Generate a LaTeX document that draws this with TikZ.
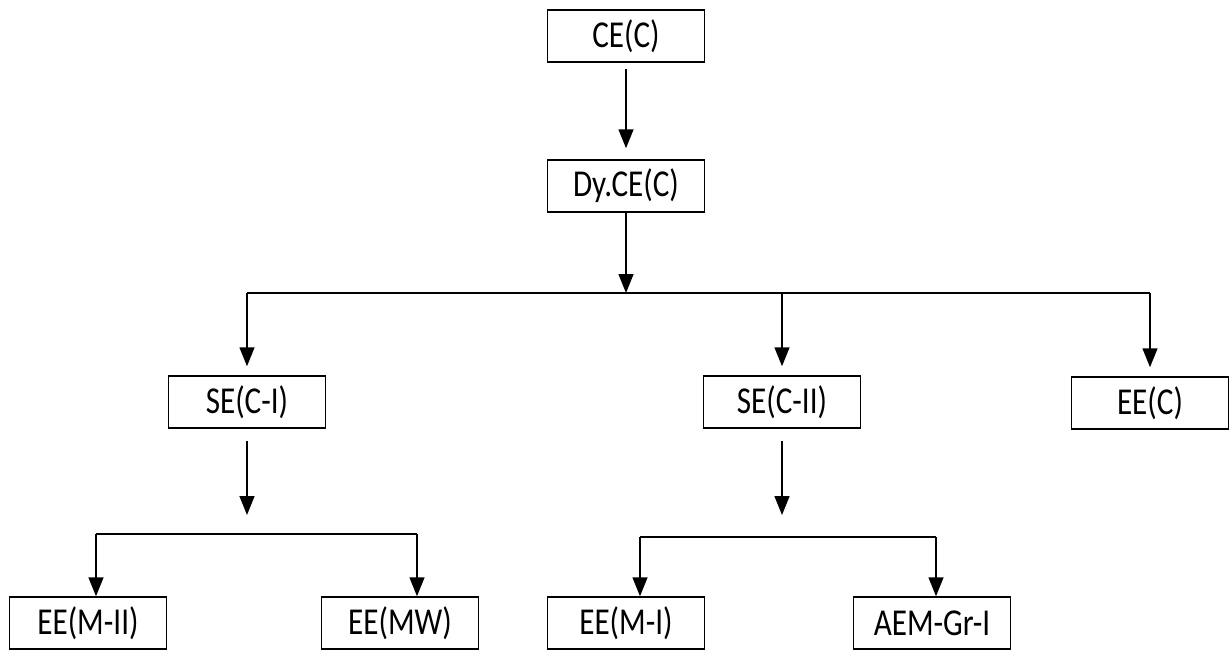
\documentclass[tikz,border=0pt]{standalone}
\usepackage{fontspec}
\setmainfont{Carlito}[FakeStretch=0.82]
\usetikzlibrary{arrows.meta}

\begin{document}
\begin{tikzpicture}[x=1pt,y=-1pt,
  box/.style={draw, line width=1.5pt, minimum width=157pt, minimum height=52pt, inner sep=0pt,
    font=\fontsize{38}{40}\selectfont},
  line/.style={line width=1.5pt},
  arr/.style={line width=1.5pt, -{Triangle[width=15pt,length=19pt]}}]
\useasboundingbox (0,0) rectangle (1229,654);
% top
\node [box] (ce) at (626,36) {CE(C)};
\node [box] (dyce) at (626,186) {Dy.CE(C)};
\node [box] (sec1) at (247,402) {SE(C-I)};
\node [box] (sec2) at (782,402) {SE(C-II)};
\node [box] (eec) at (1150,403) {EE(C)};
\node [box] (eem2) at (88,623) {EE(M-II)};
\node [box] (eemw) at (400,623) {EE(MW)};
\node [box] (eem1) at (626,623) {EE(M-I)};
\node [box] (aem) at (932,623) {AEM-Gr-I};
\coordinate (bus) at (626,293);
\coordinate (busl) at (247,293);
\coordinate (busr) at (1150,293);
\coordinate (bus2) at (782,293);
\coordinate (ta) at (247,534);
\coordinate (tl) at (96,534);
\coordinate (tr) at (417,534);
\coordinate (ub) at (782,537);
\coordinate (ul) at (640,537);
\coordinate (ur) at (936,537);

\draw [arr, shorten <=6pt, shorten >=11pt] (ce) -- (dyce);
\draw [arr] (dyce) -- (bus);
\draw [line] (busl) -- (busr);
\draw [arr, shorten >=9pt] (busl) -- (sec1);
\draw [arr, shorten >=9pt] (bus2) -- (sec2);
\draw [arr, shorten >=9pt] (busr) -- (eec);
% left branch
\draw [arr, shorten <=12pt, shorten >=19pt] (sec1) -- (ta);
\draw [line] (tl) -- (tr);
\draw [arr] (tl) -- (tl |- eem2.north);
\draw [arr] (tr) -- (tr |- eemw.north);
% right branch
\draw [arr, shorten <=12pt, shorten >=22pt] (sec2) -- (ub);
\draw [line] (ul) -- (ur);
\draw [arr] (ul) -- (ul |- eem1.north);
\draw [arr] (ur) -- (ur |- aem.north);
\end{tikzpicture}
\end{document}
